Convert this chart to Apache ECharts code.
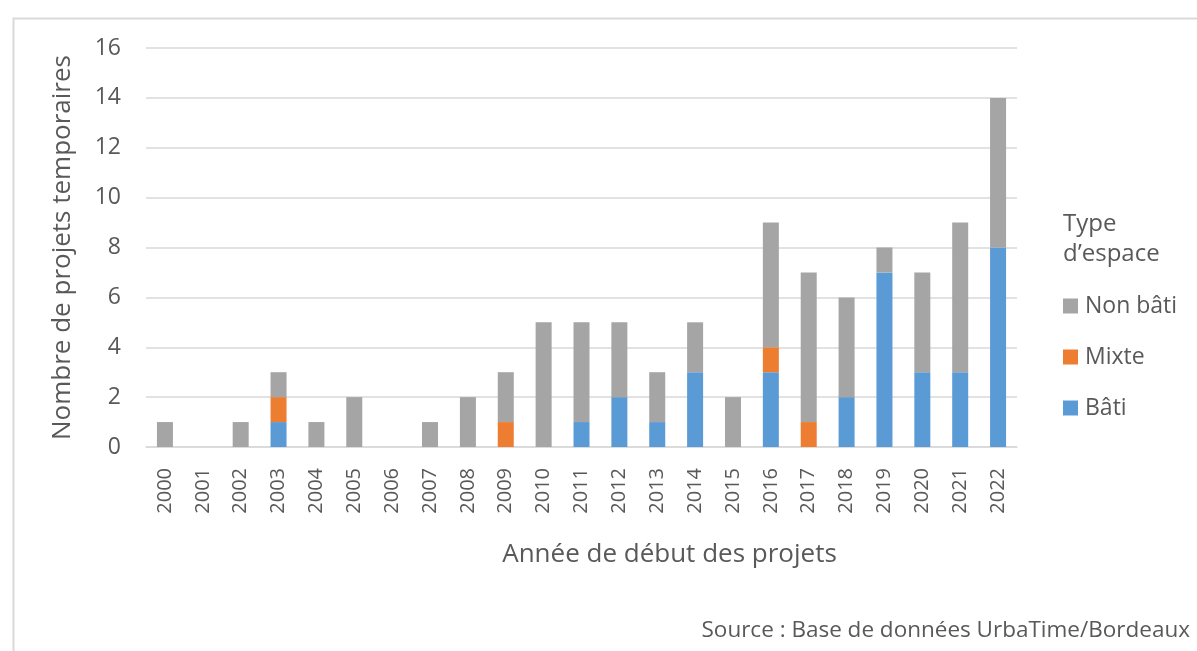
<!DOCTYPE html>
<html>
<head>
<meta charset="utf-8">
<script src="https://cdn.jsdelivr.net/npm/echarts@6/dist/echarts.min.js"></script>
<style>
  html, body { margin: 0; padding: 0; background: #fff; }
  #chart { width: 1197px; height: 651px; }
</style>
</head>
<body>
<div id="chart"></div>
<script>
// Données
const years = ["2000", "2001", "2002", "2003", "2004", "2005", "2006", "2007", "2008", "2009", "2010", "2011",
  "2012", "2013", "2014", "2015", "2016", "2017", "2018", "2019", "2020", "2021", "2022"]
const bati = [0, 0, 0, 1, 0, 0, 0, 0, 0, 0, 0, 1, 2, 1, 3, 0, 3, 0, 2, 7, 3, 3, 8]
const mixte = [0, 0, 0, 1, 0, 0, 0, 0, 0, 1, 0, 0, 0, 0, 0, 0, 1, 1, 0, 0, 0, 0, 0]
const nonBati = [1, 0, 1, 1, 1, 2, 0, 1, 2, 2, 5, 4, 3, 2, 2, 2, 5, 6, 4, 1, 4, 6, 6]
const yTicks = { min: 0, max: 16, interval: 2 }

const font = "'Open Sans', sans-serif"
const textColor = "#595959"

const chart = echarts.init(document.getElementById("chart"))

function barSeries(name, data, color) {
  return {
    name: name,
    type: "bar",
    stack: "total",
    barWidth: 16,
    data: data,
    itemStyle: { color: color },
    emphasis: { disabled: true }
  }
}

const option = {
  animation: false,
  textStyle: { fontFamily: font },
  grid: { left: 146, right: 180, top: 48, bottom: 204, containLabel: false },
  title: {
    text: "Type\nd’espace",
    left: 1063,
    top: 209,
    padding: 0,
    textStyle: { fontFamily: font, fontSize: 24, fontWeight: "normal", color: textColor, lineHeight: 30 }
  },
  legend: {
    orient: "vertical",
    left: 1063,
    top: 292,
    padding: 0,
    data: ["Non bâti", "Mixte", "Bâti"],
    itemWidth: 15,
    itemHeight: 15,
    itemGap: 23,
    icon: "rect",
    textStyle: { fontFamily: font, fontSize: 23, color: textColor, lineHeight: 28, padding: [0, 0, 0, 2] }
  },
  xAxis: {
    type: "category",
    data: years,
    name: "Année de début des projets",
    nameLocation: "middle",
    nameGap: 95,
    nameTextStyle: { fontFamily: font, fontSize: 26, color: textColor, padding: [0, 0, 0, 176] },
    axisLine: { lineStyle: { color: "#D9D9D9", width: 1.5 } },
    axisTick: { show: false },
    axisLabel: { rotate: 90, margin: 21, fontFamily: font, fontSize: 20, color: textColor }
  },
  yAxis: {
    type: "value",
    min: yTicks.min,
    max: yTicks.max,
    interval: yTicks.interval,
    name: "Nombre de projets temporaires",
    nameLocation: "middle",
    nameGap: 70,
    nameTextStyle: { fontFamily: font, fontSize: 26, color: textColor },
    axisLine: { show: false },
    axisTick: { show: false },
    axisLabel: { margin: 25, fontFamily: font, fontSize: 23, color: textColor },
    splitLine: { lineStyle: { color: "#D9D9D9", width: 1.5 } }
  },
  graphic: [
    {
      type: "rect",
      left: 11,
      top: 16,
      shape: { width: 1400, height: 800 },
      style: { fill: "none", stroke: "#D9D9D9", lineWidth: 2 },
      silent: true
    },
    {
      type: "text",
      right: 7,
      top: 619,
      style: { text: "Source : Base de données UrbaTime/Bordeaux", font: "22.5px " + font, fill: textColor },
      silent: true
    }
  ],
  series: [
    barSeries("Bâti", bati, "#5B9BD5"),
    barSeries("Mixte", mixte, "#ED7D31"),
    barSeries("Non bâti", nonBati, "#A5A5A5")
  ]
}

chart.setOption(option)
window.addEventListener("resize", () => chart.resize())
</script>
</body>
</html>
